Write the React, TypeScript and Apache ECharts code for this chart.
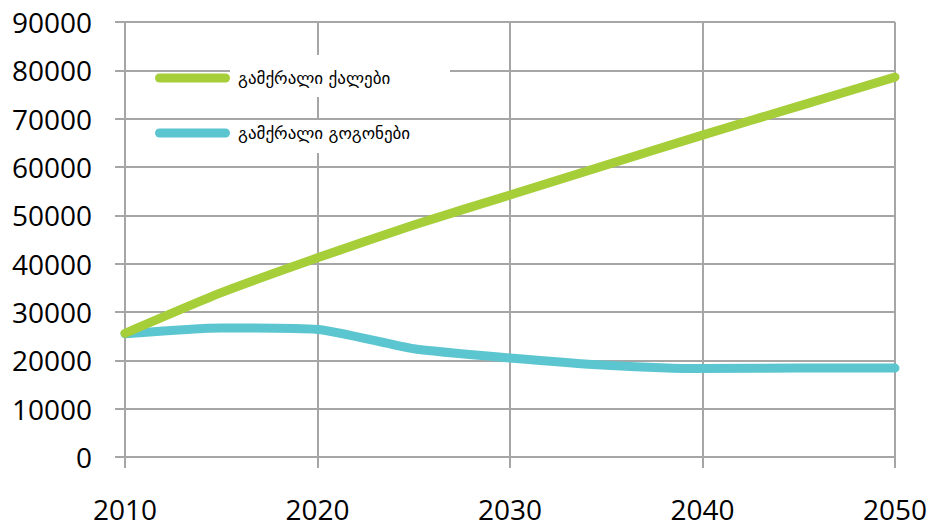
import React, { useEffect, useRef } from "react";
import * as echarts from "echarts";

// Years on the horizontal value axis
const years = [2010, 2015, 2020, 2025, 2030, 2035, 2040, 2045, 2050];

// Series names and values
const seriesNames = ["გამქრალი ქალები", "გამქრალი გოგონები"];
const womenValues = [25600, 34000, 41200, 48000, 54200, 60400, 66600, 72600, 78600];
const girlsValues = [25500, 26700, 26400, 22400, 20500, 19000, 18300, 18400, 18400];

const colors = ["#a6ce39", "#5bc6d0"];
const gridColor = "#a6a6a6";

const capsule = "path://M4.5,0 H70.5 A4.5,4.5 0 0 1 70.5,9 H4.5 A4.5,4.5 0 0 1 4.5,0 Z";

export default function App() {
  const ref = useRef<HTMLDivElement>(null);

  useEffect(() => {
    if (!ref.current) return;
    const chart = echarts.init(ref.current, null, { renderer: "svg" });
    const toPairs = (vals: number[]) => years.map((y, i) => [y, vals[i]]);

    chart.setOption({
      animation: false,
      backgroundColor: "#fff",
      grid: { left: 125, right: 33, top: 22, bottom: 72, containLabel: false },
      xAxis: {
        type: "value",
        min: 2010,
        max: 2050,
        interval: 10,
        axisLine: { show: true, lineStyle: { color: gridColor, width: 2 } },
        axisTick: { show: true, length: 11, lineStyle: { color: gridColor, width: 2 } },
        splitLine: { show: true, lineStyle: { color: gridColor, width: 2 } },
        axisLabel: {
          margin: 38,
          color: "#000",
          fontFamily: "Open Sans",
          fontSize: 28,
          lineHeight: 28,
          formatter: (v: number) => String(v),
        },
      },
      yAxis: {
        type: "value",
        min: 0,
        max: 90000,
        interval: 10000,
        axisLine: { show: true, lineStyle: { color: gridColor, width: 2 } },
        axisTick: { show: true, length: 10, lineStyle: { color: gridColor, width: 2 } },
        splitLine: { show: true, lineStyle: { color: gridColor, width: 2 } },
        axisLabel: {
          margin: 33,
          color: "#000",
          fontFamily: "Open Sans",
          fontSize: 28,
          formatter: (v: number) => String(v),
        },
      },
      legend: {
        orient: "vertical",
        left: 155,
        top: 68,
        padding: 0,
        itemWidth: 75,
        itemHeight: 9,
        itemGap: 35,
        icon: capsule,
        data: seriesNames,
        textStyle: {
          color: "#000",
          fontFamily: "DejaVu Sans",
          fontSize: 17,
          lineHeight: 20,
          padding: [0, 0, 0, 3],
        },
      },
      graphic: [
        { type: "rect", z: 1, shape: { x: 230, y: 55, width: 220, height: 42 }, style: { fill: "#fff" } },
        { type: "rect", z: 1, shape: { x: 230, y: 120, width: 220, height: 33 }, style: { fill: "#fff" } },
      ],
      series: [
        {
          name: seriesNames[0],
          type: "line",
          data: toPairs(womenValues),
          showSymbol: false,
          smooth: 0.2,
          color: colors[0],
          lineStyle: { width: 9, cap: "round", join: "round", color: colors[0] },
          z: 3,
        },
        {
          name: seriesNames[1],
          type: "line",
          data: toPairs(girlsValues),
          showSymbol: false,
          smooth: 0.2,
          color: colors[1],
          lineStyle: { width: 9, cap: "round", join: "round", color: colors[1] },
          z: 2,
        },
      ],
    });

    return () => chart.dispose();
  }, []);

  return (
    <div
      ref={ref}
      style={{ position: "fixed", left: 0, top: 0, width: 930, height: 529 }}
    />
  );
}
